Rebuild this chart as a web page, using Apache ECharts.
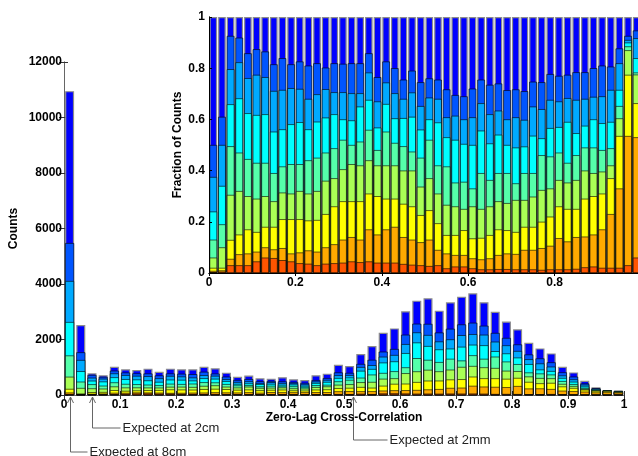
<!DOCTYPE html>
<html lang="en">
<head>
<meta charset="utf-8">
<title>Zero-Lag Cross-Correlation</title>
<script src="https://cdn.jsdelivr.net/npm/echarts@6/dist/echarts.min.js"></script>
<style>
    html, body { margin: 0; padding: 0; background: #fff; }
    #chart { width: 638px; height: 456px; }
</style>
</head>
<body>
<div id="chart"></div>
<script type="text/javascript">
// bin centres, bin width 0.02
var binCenters = [0.01,0.03,0.05,0.07,0.09,0.11,0.13,0.15,0.17,0.19,
                  0.21,0.23,0.25,0.27,0.29,0.31,0.33,0.35,0.37,0.39,
                  0.41,0.43,0.45,0.47,0.49,0.51,0.53,0.55,0.57,0.59,
                  0.61,0.63,0.65,0.67,0.69,0.71,0.73,0.75,0.77,0.79,
                  0.81,0.83,0.85,0.87,0.89,0.91,0.93,0.95,0.97,0.99];

// total counts per bin (main histogram)
var counts = [10950,2520,780,710,1020,925,900,950,840,950,
              925,925,1020,960,805,660,700,600,590,640,
              565,540,710,770,1090,1045,1480,1765,2245,2400,
              3015,3400,3485,3040,3340,3545,3665,3340,3000,2645,
              2365,1885,1680,1500,1020,815,515,275,180,155];

// cumulative fraction at the top of each colour layer (inset), bottom layer first
var topRed = [.003,.005,.03,.03,.03,.045,.06,.058,.05,.045,
              .038,.036,.03,.036,.038,.04,.045,.042,.045,.04,
              .04,.04,.035,.032,.03,.027,.03,.018,.025,.025,
              .018,.014,.014,.015,.015,.014,.014,.014,.012,.014,
              .014,.014,.016,.022,.025,.02,.02,.02,.03,.06];
var topOrange = [.008,.01,.055,.073,.076,.083,.10,.092,.097,.076,
                 .08,.088,.083,.10,.112,.13,.14,.13,.17,.15,
                 .17,.18,.14,.13,.12,.13,.09,.076,.07,.07,
                 .057,.053,.057,.07,.076,.074,.09,.09,.097,.106,
                 .136,.123,.14,.142,.15,.17,.23,.33,.535,.53];
var topYellow = [.02,.02,.129,.15,.17,.16,.18,.18,.21,.21,
                 .21,.205,.207,.23,.26,.28,.28,.28,.31,.30,
                 .29,.29,.27,.26,.226,.245,.194,.148,.148,.167,
                 .135,.137,.148,.17,.167,.16,.18,.18,.20,.22,
                 .26,.25,.25,.29,.30,.31,.37,.535,.774,.663];
var topLime = [.06,.10,.305,.32,.30,.29,.30,.28,.314,.31,
               .32,.31,.32,.36,.37,.405,.425,.42,.44,.42,
               .42,.42,.40,.40,.337,.37,.31,.266,.26,.25,
               .26,.25,.26,.28,.273,.285,.285,.298,.324,.33,
               .363,.353,.363,.40,.39,.396,.42,.604,.87,.775];
var topAqua = [.13,.19,.495,.47,.445,.43,.43,.39,.416,.425,
               .425,.44,.45,.47,.487,.52,.50,.513,.559,.48,
               .552,.508,.495,.474,.45,.52,.42,.416,.353,.356,
               .33,.39,.363,.39,.39,.35,.39,.39,.46,.455,
               .47,.43,.46,.49,.49,.48,.487,.652,.885,.783];
var topCyan = [.24,.34,.659,.682,.624,.617,.62,.552,.561,.581,
               .589,.561,.591,.607,.62,.60,.596,.65,.676,.568,
               .66,.604,.605,.61,.56,.60,.588,.53,.52,.504,
               .50,.556,.506,.54,.50,.49,.494,.536,.526,.566,
               .57,.59,.546,.575,.60,.585,.59,.715,.90,.839];
var topSky = [.375,.50,.796,.823,.761,.774,.765,.711,.715,.722,
              .719,.68,.698,.718,.706,.706,.702,.702,.783,.67,
              .744,.702,.68,.705,.652,.685,.68,.608,.614,.60,
              .608,.663,.62,.634,.60,.608,.598,.65,.64,.676,
              .67,.683,.676,.68,.688,.69,.715,.819,.91,.917];
var topBlue = [.50,.61,.926,.919,.858,.874,.865,.815,.839,.815,
               .826,.81,.819,.802,.819,.817,.819,.819,.858,.765,
               .826,.80,.755,.79,.745,.76,.755,.717,.695,.69,
               .72,.755,.735,.74,.714,.717,.71,.747,.745,.777,
               .77,.774,.784,.784,.80,.81,.806,.877,.926,.947];

// annotations under the main x axis
var noteX = [0.0107, 0.0506, 0.5155];
var noteText = ['Expected at 8cm', 'Expected at 2cm', 'Expected at 2mm'];

var myChart = echarts.init(document.getElementById('chart'));

// drawn back to front: whole bar (deep blue) first, red-orange last,
// each layer is a bar from 0 up to its cumulative top
var layerColors = ['#0000ff','#0055ff','#00aaff','#00ffff','#55ffaa','#aaff55','#ffff00','#ffaa00','#ff5500'];
var layerTops = [null, topBlue, topSky, topCyan, topAqua, topLime, topYellow, topOrange, topRed];

var FONT = 'Liberation Sans, Arial, sans-serif';
var tickLabel = {color: '#000', fontSize: 12, fontWeight: 'bold', fontFamily: FONT};

var series = [];
layerTops.forEach(function (tops, k) {
    var style = {
        color: layerColors[k],
        borderColor: k === 0 ? '#8c8c8c' : '#000',
        borderWidth: k === 0 ? 1.2 : 0.6
    };
    series.push({
        type: 'bar', xAxisIndex: 0, yAxisIndex: 0, z: 2,
        barWidth: 9, barGap: '-100%', itemStyle: style,
        data: binCenters.map(function (x, i) { return [x, tops ? counts[i] * tops[i] : counts[i]]; })
    });
    series.push({
        type: 'bar', xAxisIndex: 2, yAxisIndex: 2, z: 11,
        barWidth: 7.6, barGap: '-100%', itemStyle: style,
        data: binCenters.map(function (x, i) { return [x, tops ? tops[i] : 1]; })
    });
});

var plain = function (v) { return String(v); };

var option = {
    animation: false,
    grid: [
        {left: 64, right: 14, top: 62, bottom: 61, outerBoundsMode: 'none'},
        {left: 209, right: -3, top: 17, bottom: 183, outerBoundsMode: 'none',
         show: true, backgroundColor: '#fff', borderWidth: 0, z: 10}
    ],
    xAxis: [
        {
            gridIndex: 0, type: 'value', min: 0, max: 1, interval: 0.1,
            axisLine: {lineStyle: {color: '#666'}},
            axisTick: {inside: true, length: 4, lineStyle: {color: '#333'}},
            axisLabel: Object.assign({margin: 4, formatter: plain}, tickLabel),
            splitLine: {show: false},
            name: 'Zero-Lag Cross-Correlation', nameLocation: 'middle', nameGap: 17,
            nameMoveOverlap: false, nameTextStyle: tickLabel
        },
        {
            gridIndex: 0, type: 'value', min: 0, max: 1, interval: 0.1, position: 'top',
            axisLine: {lineStyle: {color: '#666'}},
            axisTick: {inside: true, length: 4, lineStyle: {color: '#333'}},
            axisLabel: {show: false}, splitLine: {show: false}
        },
        {
            gridIndex: 1, type: 'value', min: 0, max: 1, interval: 0.2, z: 12,
            axisLine: {lineStyle: {color: '#000'}},
            axisTick: {inside: true, length: 3, lineStyle: {color: '#000'}},
            axisLabel: Object.assign({margin: 4, formatter: plain}, tickLabel),
            splitLine: {show: false}
        },
        {
            gridIndex: 1, type: 'value', min: 0, max: 1, interval: 0.2, position: 'top', z: 12,
            axisLine: {lineStyle: {color: '#000'}},
            axisTick: {inside: true, length: 3, lineStyle: {color: '#000'}},
            axisLabel: {show: false}, splitLine: {show: false}
        }
    ],
    yAxis: [
        {
            gridIndex: 0, type: 'value', min: 0, max: 12000, interval: 2000,
            axisLine: {show: true, lineStyle: {color: '#888'}},
            axisTick: {show: true, inside: true, length: 4, lineStyle: {color: '#333'}},
            axisLabel: Object.assign({margin: 2, formatter: plain}, tickLabel),
            splitLine: {show: false},
            name: 'Counts', nameLocation: 'middle', nameGap: 44,
            nameMoveOverlap: false, nameTextStyle: tickLabel
        },
        {
            gridIndex: 0, type: 'value', min: 0, max: 12000, interval: 2000, position: 'right',
            axisLine: {show: true, lineStyle: {color: '#666'}},
            axisTick: {show: true, inside: true, length: 5, lineStyle: {color: '#333'}},
            axisLabel: {show: false}, splitLine: {show: false}
        },
        {
            gridIndex: 1, type: 'value', min: 0, max: 1, interval: 0.2, z: 12,
            axisLine: {show: true, lineStyle: {color: '#000'}},
            axisTick: {show: true, inside: true, length: 3, lineStyle: {color: '#000'}},
            axisLabel: Object.assign({margin: 4, formatter: plain}, tickLabel),
            splitLine: {show: false},
            name: 'Fraction of Counts', nameLocation: 'middle', nameGap: 25,
            nameMoveOverlap: false, nameTextStyle: tickLabel
        },
        {
            gridIndex: 1, type: 'value', min: 0, max: 1, interval: 0.2, position: 'right', z: 12,
            axisLine: {show: true, lineStyle: {color: '#000'}},
            axisTick: {show: false}, axisLabel: {show: false}, splitLine: {show: false}
        }
    ],
    series: series
};
myChart.setOption(option);

// arrows with their text below the axis
var drops = [452, 428, 440];
var arms = [17, 28, 34];
var graphics = [];
for (var n = 0; n < noteX.length; n++) {
    var px = Math.round(myChart.convertToPixel({xAxisIndex: 0}, noteX[n])) + 0.5;
    var tipY = 397;
    graphics.push({
        type: 'polyline', silent: true,
        shape: {points: [[px, tipY], [px, drops[n]], [px + arms[n], drops[n]]]},
        style: {stroke: '#666', lineWidth: 1, fill: null}
    });
    graphics.push({
        type: 'polyline', silent: true,
        shape: {points: [[px - 3, tipY + 6], [px, tipY], [px + 3, tipY + 6]]},
        style: {stroke: '#666', lineWidth: 1, fill: null}
    });
    graphics.push({
        type: 'text', silent: true,
        x: px + arms[n] + 2, y: drops[n],
        style: {text: noteText[n], fill: '#222', font: '13px ' + FONT, verticalAlign: 'middle'}
    });
}
myChart.setOption({graphic: graphics});
</script>
</body>
</html>
